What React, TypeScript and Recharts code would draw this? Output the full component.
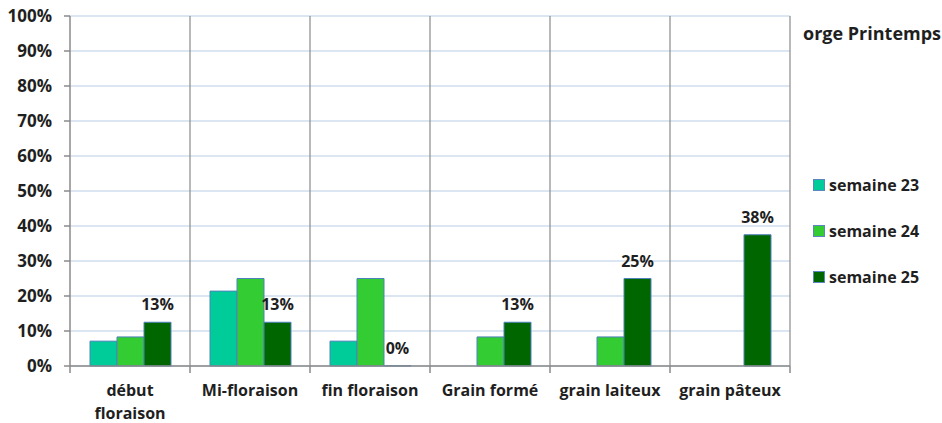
import React from 'react';
import { BarChart, Bar, XAxis, YAxis, CartesianGrid, Legend, LabelList } from 'recharts';

const categories = ['début floraison', 'Mi-floraison', 'fin floraison', 'Grain formé', 'grain laiteux', 'grain pâteux'];
const tickLabels = [['début', 'floraison'], ['Mi-floraison'], ['fin floraison'], ['Grain formé'], ['grain laiteux'], ['grain pâteux']];
const semaine23 = [7.1, 21.4, 7.1, null, null, null];
const semaine24 = [8.3, 25, 25, 8.3, 8.3, null];
const semaine25 = [12.5, 12.5, 0, 12.5, 25, 37.5];
const yTicks = [0, 10, 20, 30, 40, 50, 60, 70, 80, 90, 100];
const legendTitle = 'orge Printemps';

const data = categories.map((c, i) => ({ name: c, s23: semaine23[i], s24: semaine24[i], s25: semaine25[i] }));

const FONT = '"Open Sans", "Noto Sans", sans-serif';
const TEXT = '#1f1f1f';
const AXIS = '#8a8a8a';

const XTick = (props: any) => {
  const { x, y, payload, index } = props;
  const half = payload && payload.offset ? payload.offset : 0;
  const axisY = y - 8;
  const lines = tickLabels[index] || [String(payload.value)];
  return (
    <g>
      <line x1={x - half} x2={x - half} y1={axisY} y2={axisY + 7} stroke={AXIS} strokeWidth={1.5} />
      {index === categories.length - 1 && (
        <line x1={x + half} x2={x + half} y1={axisY} y2={axisY + 7} stroke={AXIS} strokeWidth={1.5} />
      )}
      <text x={x} y={y} textAnchor="middle" fontFamily={FONT} fontWeight={700} fontSize={16} fill={TEXT}>
        {lines.map((l, i) => (
          <tspan key={i} x={x} dy={i === 0 ? 21.5 : 23}>{l}</tspan>
        ))}
      </text>
    </g>
  );
};

const LegendContent = (props: any) => {
  const { payload } = props;
  return (
    <div style={{ position: 'relative', width: 142, height: 300, fontFamily: FONT, color: TEXT, fontWeight: 700 }}>
      <div style={{ position: 'absolute', left: 3, top: 21, fontSize: 18, lineHeight: '24px', whiteSpace: 'nowrap' }}>{legendTitle}</div>
      {(payload || []).map((e: any, i: number) => (
        <div key={i} style={{ position: 'absolute', left: 13, top: 175 + i * 46, height: 20, display: 'flex', alignItems: 'center', fontSize: 16, lineHeight: '20px', whiteSpace: 'nowrap' }}>
          <span style={{ display: 'inline-block', width: 10, height: 10, background: e.color, border: '1px solid #5b86c0', marginRight: 4 }} />
          {e.value}
        </div>
      ))}
    </div>
  );
};

export default function App() {
  return (
    <div style={{ position: 'absolute', left: 0, top: 0, width: 942, height: 423, background: '#fff' }}>
      <BarChart width={942} height={423} data={data} margin={{ top: 16, right: 152, bottom: 0, left: 0 }} barCategoryGap={20} barGap={0}>
        <CartesianGrid vertical={false} stroke="#b9cde5" strokeWidth={1.2} />
        <CartesianGrid
          horizontal={false}
          stroke={AXIS}
          strokeWidth={1.2}
          verticalCoordinatesGenerator={({ offset }: any) =>
            categories.map((_, i) => offset.left + (offset.width * (i + 1)) / categories.length)
          }
        />
        <XAxis dataKey="name" height={57} interval={0} tick={<XTick />} tickLine={false} tickSize={6} tickMargin={2} axisLine={{ stroke: AXIS, strokeWidth: 1.5 }} />
        <YAxis
          width={70}
          domain={[0, 100]}
          ticks={yTicks}
          interval={0}
          tickFormatter={(v: number) => `${v}%`}
          tickSize={6}
          tickMargin={12}
          tickLine={{ stroke: AXIS, strokeWidth: 1.5 }}
          axisLine={{ stroke: AXIS, strokeWidth: 1.5 }}
          tick={{ fontFamily: FONT, fontWeight: 700, fontSize: 17, fill: TEXT }}
        />
        <Legend layout="vertical" align="center" verticalAlign="middle" content={<LegendContent />} wrapperStyle={{ left: 800, top: 0, width: 142, height: 300 }} />
        <Bar dataKey="s23" name="semaine 23" fill="#00cc99" stroke="#4f81bd" strokeWidth={1} isAnimationActive={false} />
        <Bar dataKey="s24" name="semaine 24" fill="#33cc33" stroke="#4f81bd" strokeWidth={1} isAnimationActive={false} />
        <Bar
          dataKey="s25"
          name="semaine 25"
          fill="#006600"
          stroke="#4f81bd"
          strokeWidth={1}
          minPointSize={(v: any) => (v === 0 ? 0.3 : 0)}
          isAnimationActive={false}
        >
          <LabelList dataKey="s25" position="top" offset={12} formatter={(v: any) => `${Math.round(v)}%`} style={{ fontFamily: FONT, fontWeight: 700, fontSize: 16, fill: TEXT }} />
        </Bar>
      </BarChart>
    </div>
  );
}
